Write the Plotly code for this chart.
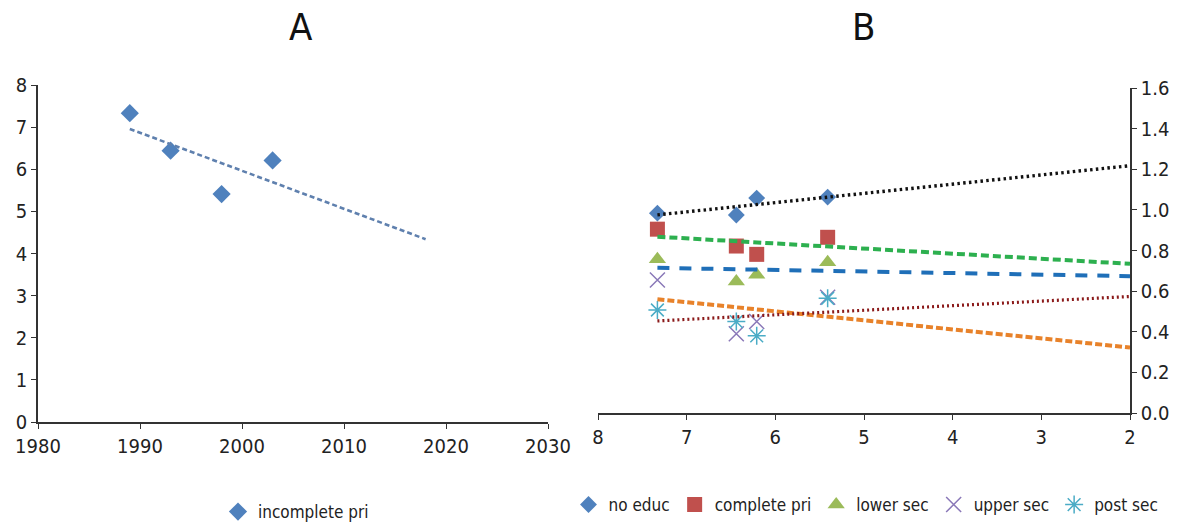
import numpy as np
import plotly.graph_objects as go

# ---- data -------------------------------------------------------------
survey_years = [1989, 1993, 1998, 2003]
tfr_incomplete_pri = [7.33, 6.44, 5.41, 6.21]

# ratios by education group (same survey order); x = incomplete-primary TFR
no_educ = [0.984, 0.975, 1.063, 1.058]
complete_pri = [0.905, 0.822, 0.865, 0.781]
lower_sec = [0.757, 0.648, 0.742, 0.681]
upper_sec = [0.655, 0.390, 0.570, 0.450]
post_sec = [0.507, 0.450, 0.565, 0.380]

year_ticks = [1980, 1990, 2000, 2010, 2020, 2030]
tfr_ticks = [0, 1, 2, 3, 4, 5, 6, 7, 8]

A_TREND_END = 2018   # linear trend projected forward
B_TREND_END = 2.0

FONT = "Liberation Sans Narrow, DejaVu Sans Condensed, Arial Narrow, sans-serif"
W, H = 1187, 526


def linear_trend(x, y, x_end):
    slope, intercept = np.polyfit(x, y, 1)
    xs = np.array([x[0], x_end], dtype=float)
    return xs, slope * xs + intercept


fig = go.Figure()

# ---- panel A ----------------------------------------------------------
fig.add_trace(go.Scatter(
    x=survey_years, y=tfr_incomplete_pri, mode="markers",
    name="incomplete pri", legend="legend",
    marker=dict(symbol="diamond", size=14, color="#4F81BD"),
    xaxis="x", yaxis="y"))
tx, ty = linear_trend(np.array(survey_years, float), np.array(tfr_incomplete_pri), A_TREND_END)
fig.add_trace(go.Scatter(
    x=tx, y=ty, mode="lines", showlegend=False,
    line=dict(color="#5F80AE", width=2.6, dash="5px,3px"),
    xaxis="x", yaxis="y"))

# ---- panel B ----------------------------------------------------------
series = [
    ("no educ", no_educ, dict(symbol="diamond", size=13, color="#4F81BD"),
     dict(color="#111111", width=3.4, dash="2.5px,3.3px")),
    ("complete pri", complete_pri, dict(symbol="square", size=15, color="#C0504D"),
     dict(color="#2DB04F", width=4, dash="8px,4px")),
    ("lower sec", lower_sec, dict(symbol="triangle-up", size=15, color="#9BBB59"),
     dict(color="#1F6FB8", width=4, dash="12px,10px")),
    ("upper sec", upper_sec, dict(symbol="x-thin", size=15, color="#8A78B8",
                                  line=dict(color="#8A78B8", width=1.5)),
     dict(color="#E8822A", width=4, dash="7px,3px")),
    ("post sec", post_sec, dict(symbol="asterisk", size=15, color="#4BACC6",
                                line=dict(color="#4BACC6", width=1.5)),
     dict(color="#8B1A1A", width=3.2, dash="2px,3px")),
]

xb = np.array(tfr_incomplete_pri)
order = np.argsort(-xb)
for name, vals, mk, ln in series:
    fig.add_trace(go.Scatter(
        x=tfr_incomplete_pri, y=vals, mode="markers", name=name,
        legend="legend2", marker=mk, xaxis="x2", yaxis="y2"))
for name, vals, mk, ln in series:
    lx, ly = linear_trend(xb[order], np.array(vals)[order], B_TREND_END)
    fig.add_trace(go.Scatter(
        x=lx, y=ly, mode="lines", showlegend=False, line=ln,
        xaxis="x2", yaxis="y2"))

axis_common = dict(
    showgrid=False, zeroline=False, showline=True, linecolor="#333333",
    linewidth=1.5, ticks="outside", ticklen=5, tickcolor="#333333",
    tickwidth=1.3, automargin=False,
    tickfont=dict(family=FONT, size=20, color="#222222"),
)

legend_common = dict(
    orientation="h", xanchor="center", yanchor="middle",
    font=dict(family=FONT, size=17, color="#222222"),
    itemwidth=30, tracegroupgap=0, bgcolor="rgba(0,0,0,0)",
)

fig.update_layout(
    width=W, height=H,
    margin=dict(l=0, r=0, t=0, b=0, autoexpand=False),
    paper_bgcolor="white", plot_bgcolor="white",
    font=dict(family=FONT, color="#222222"),
    xaxis=dict(domain=[38 / W, 548 / W], range=[1980, 2030],
               tickvals=year_ticks, anchor="y", **axis_common),
    yaxis=dict(domain=[1 - 422 / H, 1 - 85 / H], range=[0, 8],
               tickvals=tfr_ticks, anchor="x", **axis_common),
    xaxis2=dict(domain=[598 / W, 1130 / W], range=[8, 2], dtick=1,
                anchor="y2", **axis_common),
    yaxis2=dict(domain=[1 - 413 / H, 1 - 88 / H], range=[0, 1.6], dtick=0.2,
                tickformat=".1f", side="right", anchor="x2", **axis_common),
    legend=dict(x=296 / W, y=1 - 512 / H, **legend_common),
    legend2=dict(x=866 / W, y=1 - 505 / H, **legend_common),
    annotations=[
        dict(text="A", x=287 / W, y=1 - 27 / H, xref="paper", yref="paper",
             yanchor="middle", showarrow=False,
             font=dict(family=FONT, size=38, color="#111111")),
        dict(text="B", x=877 / W, y=1 - 27 / H, xref="paper", yref="paper",
             yanchor="middle", showarrow=False,
             font=dict(family=FONT, size=38, color="#111111")),
    ],
)

fig.write_html("out.html")
